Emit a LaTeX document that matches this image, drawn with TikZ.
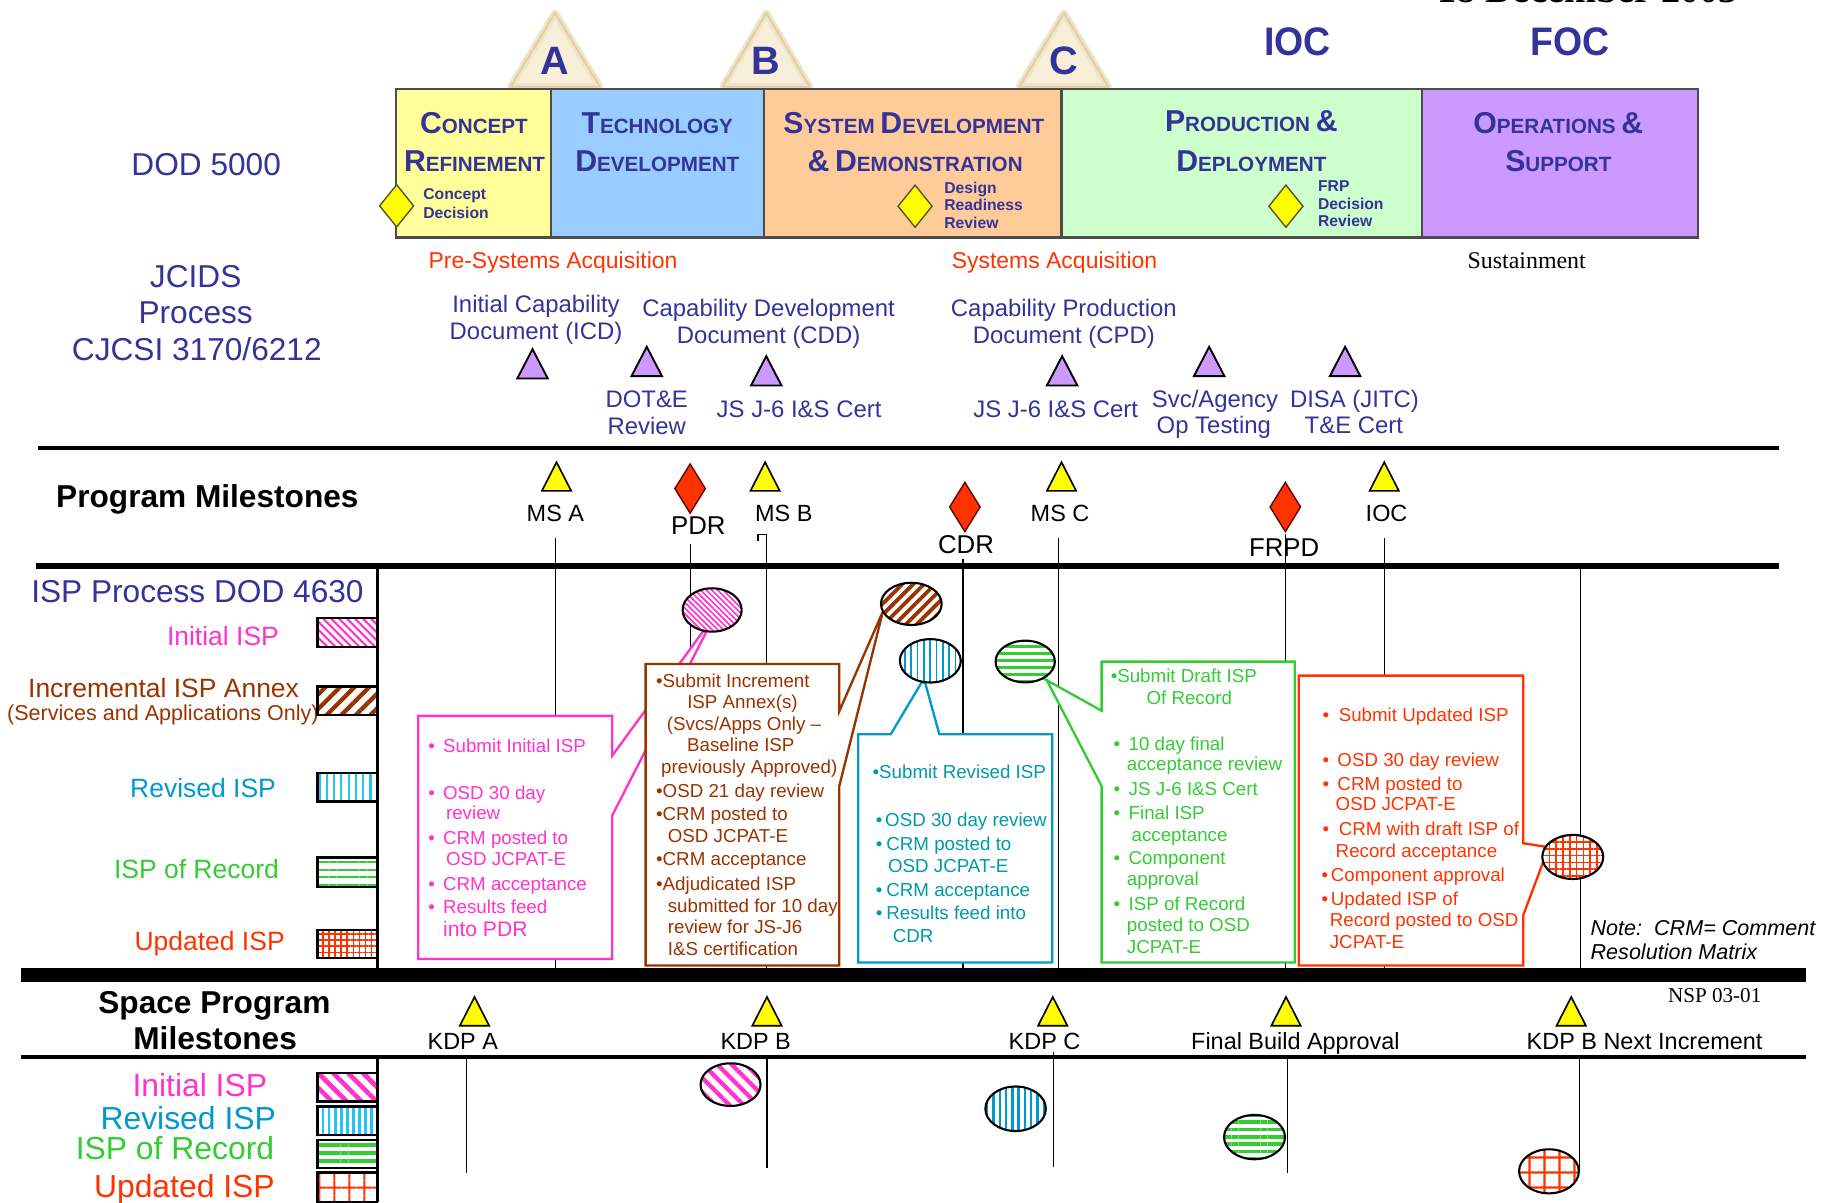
\documentclass[tikz,border=0pt]{standalone}
\usepackage{fontspec}
\setmainfont{Liberation Sans}
\newfontfamily\serifff{Liberation Serif}
\usetikzlibrary{patterns.meta}
\definecolor{cNavy}{HTML}{333399}
\definecolor{cPink}{HTML}{FF33CC}
\definecolor{cBrown}{HTML}{993300}
\definecolor{cCyan}{HTML}{0099CC}
\definecolor{cCyanP}{HTML}{22C4F4}
\definecolor{cCyanT}{HTML}{0099AA}
\definecolor{cGreen}{HTML}{33CC33}
\definecolor{cRed}{HTML}{FF3300}
\definecolor{cCR}{HTML}{FFFF99}
\definecolor{cTD}{HTML}{99CCFF}
\definecolor{cSDD}{HTML}{FFCC99}
\definecolor{cPD}{HTML}{CCFFCC}
\definecolor{cOS}{HTML}{CC99FF}
\definecolor{cBeige}{HTML}{F8EFD9}
\definecolor{cTan}{HTML}{E2CF9E}
\definecolor{cYel}{HTML}{FFFF00}
\newcommand\myfs[1]{\fontsize{#1}{#1}\selectfont}
\newcommand\phsc[2]{{\myfs{12.9}#1}{\myfs{8.8}#2}}
\newcommand\bul[1]{\makebox[#1][l]{\textbullet}}
\newcommand\txl[4]{\node[anchor=base west] (#1) at (#2,#3) {#4};}
\newcommand\txc[4]{\node[anchor=base] (#1) at (#2,#3) {#4};}
\newcommand\txr[4]{\node[anchor=base east] (#1) at (#2,#3) {#4};}
\tikzset{
  every node/.style={inner sep=0pt, outer sep=0pt},
  ymile/.style={fill=cYel, draw=black, line width=0.7pt, line join=miter},
  rdiam/.style={fill=cRed, draw=black!60!red, line width=0.6pt},
  ptrist/.style={fill=cOS, draw=black, line width=0.8pt},
  ydiam/.style={fill=cYel, draw=black!50!olive, line width=0.6pt},
  vline/.style={line width=0.65pt},
  callout/.style={fill=white, line width=1pt, line join=miter},
  swatch/.style={draw=black, line width=1pt, preaction={fill=white}},
  ispc/.style={draw=black, line width=0.9pt, preaction={fill=white}},
  ymtri/.pic={\draw[ymile] (-12.5,0) -- (0,-24.5) -- (12.5,0) -- cycle;},
  ptri/.pic={\draw[ptrist] (-13,0) -- (0,-25) -- (13,0) -- cycle;},
  rdia/.pic={\draw[rdiam] (0,-21) -- (13,0) -- (0,21) -- (-13,0) -- cycle;},
  ydia/.pic={\draw[ydiam] (0,-18) -- (14.5,0) -- (0,18) -- (-14.5,0) -- cycle;},
}
\begin{document}
\begin{tikzpicture}[x=0.5pt,y=-0.5pt]
\useasboundingbox (0,0) rectangle (1567,1026);

% date (cut off at top)
\node[anchor=base, font=\serifff\bfseries\myfs{16.4}] (date) at (1355,2) {18 December 2003};

% A B C triangles
\foreach \xx/\bl/\br/\nm in {473.7/435.8/512/A, 654/617/691/B, 908/870/946/C} {
  \draw[cTan!55, line width=3pt, line join=round, fill=cBeige] (\bl,74) -- (\xx,11) -- (\br,74) -- cycle;
  \draw[cTan, line width=0.8pt, line join=round] (\bl,74) -- (\xx,11) -- (\br,74) -- cycle;
  \node[anchor=base, text=cNavy, font=\bfseries\myfs{16.9}] (tri\nm) at (\xx,64) {\nm};
}
\node[anchor=base, text=cNavy, font=\bfseries\myfs{17}] (ioctop) at (1107.5,47) {\scalebox{0.94}[1]{IOC}};
\node[anchor=base, text=cNavy, font=\bfseries\myfs{17}] (foctop) at (1340,47) {\scalebox{0.94}[1]{FOC}};

% phase bar
\fill[cCR] (338,76.2) rectangle (470,202.6);
\fill[cTD] (470,76.2) rectangle (652,202.6);
\fill[cSDD] (652,76.2) rectangle (906,202.6);
\fill[cPD] (906,76.2) rectangle (1214,202.6);
\fill[cOS] (1214,76.2) rectangle (1449,202.6);
\draw[black!70, line width=1pt] (338,76.2) rectangle (1449,202.6);
\foreach \xx in {470,652,906,1214} \draw[black!70, line width=0.9pt] (\xx,76.2) -- (\xx,202.6);

\begin{scope}[every node/.append style={text=cNavy, font=\bfseries\myfs{8.8}}]
\txc{ph1a}{404.5}{113.8}{\phsc{C}{ONCEPT}}
\txc{ph1b}{405}{146.5}{\phsc{R}{EFINEMENT}}
\txc{ph2a}{561}{114}{\phsc{T}{ECHNOLOGY}}
\txc{ph2b}{561}{146.5}{\phsc{D}{EVELOPMENT}}
\txc{ph3a}{780}{114}{\phsc{S}{YSTEM} \phsc{D}{EVELOPMENT}}
\txc{ph3b}{781}{146.5}{{\myfs{12.9}\&} \phsc{D}{EMONSTRATION}}
\txc{ph4a}{1068}{112.5}{\phsc{P}{RODUCTION} {\myfs{12.9}\&}}
\txc{ph4b}{1068}{146}{\phsc{D}{EPLOYMENT}}
\txc{ph5a}{1330}{114}{\phsc{O}{PERATIONS} {\myfs{12.9}\&}}
\txc{ph5b}{1330}{146}{\phsc{S}{UPPORT}}
\end{scope}

\pic at (338.5,175.7) {ydia};
\pic at (781,176) {ydia};
\pic at (1097.5,176) {ydia};
\begin{scope}[every node/.append style={text=cNavy, font=\bfseries\myfs{6.7}}]
\txl{cd1}{361.3}{170.7}{Concept}
\txl{cd2}{361.3}{186.3}{Decision}
\txl{dr1}{806}{165}{Design}
\txl{dr2}{806}{179.8}{Readiness}
\txl{dr3}{806}{194.9}{Review}
\txl{fr1}{1125}{163.6}{FRP}
\txl{fr2}{1125}{178.7}{Decision}
\txl{fr3}{1125}{193.5}{Review}
\end{scope}

% acquisition labels
\begin{scope}[every node/.append style={text=cRed, font=\myfs{9.8}}]
\txc{presys}{472}{229}{Pre-Systems Acquisition}
\txc{sysacq}{900}{229}{Systems Acquisition}
\end{scope}
\node[anchor=base, font=\serifff\myfs{10.2}] (sustain) at (1303,229) {Sustainment};

% left headings
\begin{scope}[every node/.append style={text=cNavy, font=\myfs{13.5}}]
\txc{dod}{176}{149.5}{DOD 5000}
\txc{jc1}{167}{245}{JCIDS}
\txc{jc2}{167}{276}{Process}
\txc{jc3}{168}{308}{CJCSI 3170/6212}
\txc{isphead}{168.5}{513.8}{ISP Process DOD 4630}
\end{scope}

% JCIDS documents
\begin{scope}[every node/.append style={text=cNavy, font=\myfs{10.2}}]
\txc{icd1}{457.5}{267}{Initial Capability}
\txc{icd2}{457.5}{290}{Document (ICD)}
\txc{cdd1}{656}{270}{Capability Development}
\txc{cdd2}{656}{293}{Document (CDD)}
\txc{cpd1}{908}{270}{Capability Production}
\txc{cpd2}{908}{293}{Document (CPD)}
\txc{dot1}{552}{348}{DOT\&E}
\txc{dot2}{552}{371}{Review}
\txc{js1}{682}{356}{JS J-6 I\&S Cert}
\txc{js2}{901}{356}{JS J-6 I\&S Cert}
\txc{svc1}{1037}{348}{Svc/Agency}
\txc{svc2}{1036}{370}{Op Testing}
\txc{disa1}{1156}{348}{DISA (JITC)}
\txc{disa2}{1155.5}{370}{T\&E Cert}
\end{scope}
\pic at (454.5,323) {ptri};
\pic at (552,321) {ptri};
\pic at (654,329) {ptri};
\pic at (906.5,329) {ptri};
\pic at (1032,321) {ptri};
\pic at (1148,321) {ptri};

% rules
\draw[line width=1.5pt] (32.6,382.5) -- (1518.5,382.5);
\draw[line width=2.3pt] (31,483) -- (1518.5,483);

% program milestones
\node[anchor=base, font=\bfseries\myfs{13.5}] (pm) at (177,433) {Program Milestones};
\pic at (475,419) {ymtri};
\pic at (653,419) {ymtri};
\pic at (906,419) {ymtri};
\pic at (1181.4,419) {ymtri};
\pic at (589,417) {rdia};
\pic at (823.5,432.7) {rdia};
\pic at (1097,432.7) {rdia};
\begin{scope}[every node/.append style={font=\myfs{10}}]
\txc{msa}{474}{445}{MS A}
\txc{msb}{669}{445}{MS B}
\txc{msc}{904.7}{445}{MS C}
\txc{ioc}{1183.4}{445}{IOC}
\end{scope}
\begin{scope}[every node/.append style={font=\myfs{11}}]
\txc{pdr}{596}{456}{PDR}
\txc{cdr}{824.5}{472.6}{CDR}
\txc{frpd}{1096}{474.6}{FRPD}
\end{scope}

% milestone vertical lines
\draw[vline] (474,459) -- (474,826);
\draw[vline] (589.5,464) -- (589.5,567);
\draw[vline] (647,462) -- (647,456) -- (654,456) -- (654,826);
\draw[vline] (822,477) -- (822,826);
\draw[vline] (903.5,459) -- (903.5,826);
\draw[vline] (1097,456) -- (1097,826);
\draw[vline] (1181.5,459) -- (1181.5,826);
\draw[vline] (1349,483) -- (1349,826);
\draw[line width=1.15pt] (322,483) -- (322,826);

% callout boxes
\draw[callout, draw=cPink] (357,611) -- (522.5,611) -- (522.5,645) -- (600,539) -- (603,539) -- (522.5,696) -- (522.5,818.5) -- (357,818.5) -- cycle;
\draw[callout, draw=cBrown] (551,566.7) -- (716.3,566.7) -- (716.3,607) -- (753.5,522) -- (716.3,671) -- (716.3,824) -- (551,824) -- cycle;
\draw[callout, draw=cCyan] (732.5,626.7) -- (760.2,626.7) -- (786.6,582.4) -- (789.5,582.4) -- (801.7,626.7) -- (898.1,626.7) -- (898.1,821.5) -- (732.5,821.5) -- cycle;
\draw[callout, draw=cGreen] (940.2,564.7) -- (1105,564.7) -- (1105,821.5) -- (940.2,821.5) -- (940.2,671) -- (893.3,580.4) -- (890.4,578.9) -- (940.2,606.6) -- cycle;
\draw[callout, draw=cRed] (1108.5,576.6) -- (1300.1,576.6) -- (1300.1,719.7) -- (1318.6,722.6) -- (1317.2,735.4) -- (1300.1,781) -- (1300.1,824) -- (1108.5,824) -- cycle;

% pink box text
\begin{scope}[every node/.append style={text=cPink, font=\myfs{8}}]
\txl{pk1}{365.7}{642.4}{\bul{6.25pt}Submit Initial ISP}
\txl{pk2}{365.7}{682.2}{\bul{6.25pt}OSD 30 day}
\txl{pk3}{380.7}{699}{review}
\txl{pk4}{365.7}{720.5}{\bul{6.25pt}CRM posted to}
\txl{pk5}{380.7}{738.8}{OSD JCPAT-E}
\txl{pk6}{365.7}{759.6}{\bul{6.25pt}CRM acceptance}
\txl{pk7}{365.7}{780}{\bul{6.25pt}Results feed}
\node[anchor=base west, font=\myfs{9}] (pk8) at (378.2,799) {into PDR};
\end{scope}
% brown box text
\begin{scope}[every node/.append style={text=cBrown, font=\myfs{8}}]
\txl{bn1}{560}{586.8}{\textbullet Submit Increment}
\txc{bn2}{633.7}{605}{ISP Annex(s)}
\txc{bn3}{635}{623.5}{(Svcs/Apps Only \textendash}
\txc{bn4}{632.3}{641}{Baseline ISP}
\txc{bn5}{639.5}{660}{previously Approved)}
\txl{bn6}{560}{680.7}{\textbullet OSD 21 day review}
\txl{bn7}{560}{700.6}{\textbullet CRM posted to}
\txl{bn8}{570}{719}{OSD JCPAT-E}
\txl{bn9}{560}{738.8}{\textbullet CRM acceptance}
\txl{bn10}{560}{759.6}{\textbullet Adjudicated ISP}
\txl{bn11}{570}{778.6}{submitted for 10 day}
\txl{bn12}{570}{796.3}{review for JS-J6}
\txl{bn13}{570}{815.3}{I\&S certification}
\end{scope}
% cyan box text
\begin{scope}[every node/.append style={text=cCyanT, font=\myfs{8}}]
\txl{cy1}{744.8}{664.3}{\textbullet Submit Revised ISP}
\txl{cy2}{747.5}{705.2}{\bul{4pt}OSD 30 day review}
\txl{cy3}{747.5}{725.7}{\bul{4.5pt}CRM posted to}
\txl{cy4}{758}{745}{OSD JCPAT-E}
\txl{cy5}{747.5}{764.9}{\bul{4.5pt}CRM acceptance}
\txl{cy6}{747.5}{784.8}{\bul{4.5pt}Results feed into}
\txl{cy7}{762}{804}{CDR}
\end{scope}
% green box text
\begin{scope}[every node/.append style={text=cGreen, font=\myfs{8}}]
\txl{gr1}{948}{582.7}{\textbullet Submit Draft ISP}
\txc{gr2}{1015}{601}{Of Record}
\txl{gr3}{950.5}{640.3}{\bul{6.4pt}10 day final}
\txl{gr4}{961.8}{657.8}{acceptance review}
\txl{gr5}{950.5}{678.6}{\bul{6.4pt}JS J-6 I\&S Cert}
\txl{gr6}{950.5}{699}{\bul{6.4pt}Final ISP}
\txl{gr7}{965.8}{718}{acceptance}
\txl{gr8}{950.5}{738}{\bul{6.4pt}Component}
\txl{gr9}{961.8}{755.7}{approval}
\txl{gr10}{950.5}{777}{\bul{6.4pt}ISP of Record}
\txl{gr11}{961.8}{794.8}{posted to OSD}
\txl{gr12}{961.8}{813.8}{JCPAT-E}
\end{scope}
% red box text
\begin{scope}[every node/.append style={text=cRed, font=\myfs{8}}]
\txl{rd1}{1128.9}{615.5}{\bul{6.85pt}Submit Updated ISP}
\txl{rd2}{1128.9}{654}{\bul{6.3pt}OSD 30 day review}
\txl{rd3}{1128.9}{674.6}{\bul{6.3pt}CRM posted to}
\txl{rd4}{1140}{692}{OSD JCPAT-E}
\txl{rd5}{1128.9}{712.8}{\bul{6.85pt}CRM with draft ISP of}
\txl{rd6}{1140}{731.8}{Record acceptance}
\txl{rd7}{1127.9}{752}{\bul{4pt}Component approval}
\txl{rd8}{1127.9}{772.5}{\bul{4pt}Updated ISP of}
\txl{rd9}{1135}{790.9}{Record posted to OSD}
\txl{rd10}{1135}{809.3}{JCPAT-E}
\end{scope}

% ISP ovals (process)
\draw[ispc, pattern={Lines[angle=-45,distance=1.7pt,line width=0.7pt]}, pattern color=cPink] (607.8,520.6) ellipse [x radius=25.2, y radius=18.5];
\draw[ispc, pattern={Lines[angle=45,distance=3.3pt,line width=1.6pt]}, pattern color=cBrown] (777.8,515.4) ellipse [x radius=25.9, y radius=18];
\draw[ispc, pattern={Lines[angle=90,distance=2.7pt,line width=0.7pt]}, pattern color=cCyan] (794,564) ellipse [x radius=26, y radius=18.5];
\draw[ispc, pattern={Lines[angle=0,distance=3pt,line width=1.2pt]}, pattern color=cGreen] (875,564.6) ellipse [x radius=25.3, y radius=17.8];
\draw[ispc, pattern={Hatch[angle=0,distance=2.9pt,line width=0.7pt]}, pattern color=cRed] (1342.3,731.4) ellipse [x radius=26, y radius=18.8];

% legend top
\begin{scope}[every node/.append style={font=\myfs{11.3}}]
\node[anchor=base east, text=cPink] (lg1) at (238,550.6) {Initial ISP};
\node[anchor=base, text=cBrown] (lg2) at (139.6,595) {Incremental ISP Annex};
\node[anchor=base, text=cBrown, font=\myfs{9.2}] (lg2b) at (139,615) {(Services and Applications Only)};
\node[anchor=base east, text=cCyan] (lg3) at (235.5,680.7) {Revised ISP};
\node[anchor=base east, text=cGreen] (lg4) at (238,749.5) {ISP of Record};
\node[anchor=base east, text=cRed] (lg5) at (243,811.4) {Updated ISP};
\end{scope}
\draw[swatch, pattern={Lines[angle=-45,distance=2.4pt,line width=0.9pt]}, pattern color=cPink] (271,527.7) rectangle (321.5,552);
\draw[swatch, pattern={Lines[angle=45,distance=4.4pt,line width=1.8pt]}, pattern color=cBrown] (271,586) rectangle (321.5,610);
\draw[swatch, pattern={Lines[angle=90,distance=3.1pt,line width=0.9pt]}, pattern color=cCyanP] (271,660) rectangle (321.5,684);
\draw[swatch, pattern={Lines[angle=0,distance=3.3pt,line width=0.9pt]}, pattern color=cGreen] (271,732) rectangle (321.5,757);
\draw[swatch, pattern={Hatch[angle=0,distance=2.6pt,line width=0.7pt]}, pattern color=cRed] (271,793.7) rectangle (321.5,817.8);

% note
\begin{scope}[every node/.append style={font=\itshape\myfs{9.2}}]
\txl{note1}{1357.6}{798.5}{Note:\ \ CRM= Comment}
\txl{note2}{1357.6}{819}{Resolution Matrix}
\end{scope}

% thick bar
\fill (17.5,826) rectangle (1541,838);

% space program section
\node[anchor=base, font=\bfseries\myfs{13.5}] (sp1) at (183,865.4) {Space Program};
\node[anchor=base, font=\bfseries\myfs{13.5}] (sp2) at (183.6,895.5) {Milestones};
\node[anchor=base, font=\serifff\myfs{9}] (nsp) at (1463.5,855.7) {NSP 03-01};
\pic at (405,875.4) {ymtri};
\pic at (654.6,875.4) {ymtri};
\pic at (898.5,875.4) {ymtri};
\pic at (1097.6,875.4) {ymtri};
\pic at (1341,875.4) {ymtri};
\begin{scope}[every node/.append style={font=\myfs{10}}]
\txc{kdpa}{395}{895.5}{KDP A}
\txc{kdpb}{645}{895.5}{KDP B}
\txc{kdpc}{891.5}{895.5}{KDP C}
\txc{fba}{1105.6}{895.5}{Final Build Approval}
\txc{kdpbn}{1403.6}{895.5}{KDP B Next Increment}
\end{scope}
\draw[line width=1.85pt] (17.5,902.3) -- (1541,902.3);
\draw[line width=1.15pt] (322,903) -- (322,1026);
\draw[vline] (398,904) -- (398,1001.3);
\draw[vline] (654.6,900) -- (654.6,997);
\draw[vline] (899,898) -- (899,995.7);
\draw[vline] (1099,904) -- (1099,1001.3);
\draw[vline] (1348,904) -- (1348,998.5);

\draw[ispc, pattern={Lines[angle=-45,distance=4.3pt,line width=1.8pt]}, pattern color=cPink] (623.5,925.7) ellipse [x radius=25.6, y radius=18.2];
\draw[ispc, pattern={Lines[angle=90,distance=2.7pt,line width=1pt]}, pattern color=cCyan] (866.8,946.3) ellipse [x radius=25.8, y radius=19];
\draw[ispc, pattern={Lines[angle=0,distance=3.1pt,line width=1.5pt]}, pattern color=cGreen] (1070.7,970.5) ellipse [x radius=26, y radius=18.9];
\draw[ispc, pattern={Hatch[angle=0,distance=6.4pt,line width=0.9pt]}, pattern color=cRed] (1322,999.7) ellipse [x radius=25.5, y radius=18.8];

% legend bottom
\begin{scope}[every node/.append style={font=\myfs{13.6}}]
\node[anchor=base east, text=cPink] (lb1) at (228,936) {Initial ISP};
\node[anchor=base east, text=cCyan] (lb2) at (235.5,963.8) {Revised ISP};
\node[anchor=base east, text=cGreen] (lb3) at (234,989.4) {ISP of Record};
\node[anchor=base east, text=cRed] (lb4) at (234.5,1021.9) {Updated ISP};
\end{scope}
\draw[swatch, pattern={Lines[angle=-45,distance=4.5pt,line width=2pt]}, pattern color=cPink] (271,916) rectangle (321.5,940);
\draw[swatch, pattern={Lines[angle=90,distance=2.6pt,line width=1.2pt]}, pattern color=cCyanP] (271,944.5) rectangle (321.5,968.7);
\draw[swatch, pattern={Lines[angle=0,distance=3.5pt,line width=1.6pt]}, pattern color=cGreen] (271,973) rectangle (321.5,997);
\draw[swatch, pattern={Hatch[angle=0,distance=6.5pt,line width=0.9pt]}, pattern color=cRed] (271,1000.8) rectangle (321.5,1025.6);
\end{tikzpicture}
\end{document}
